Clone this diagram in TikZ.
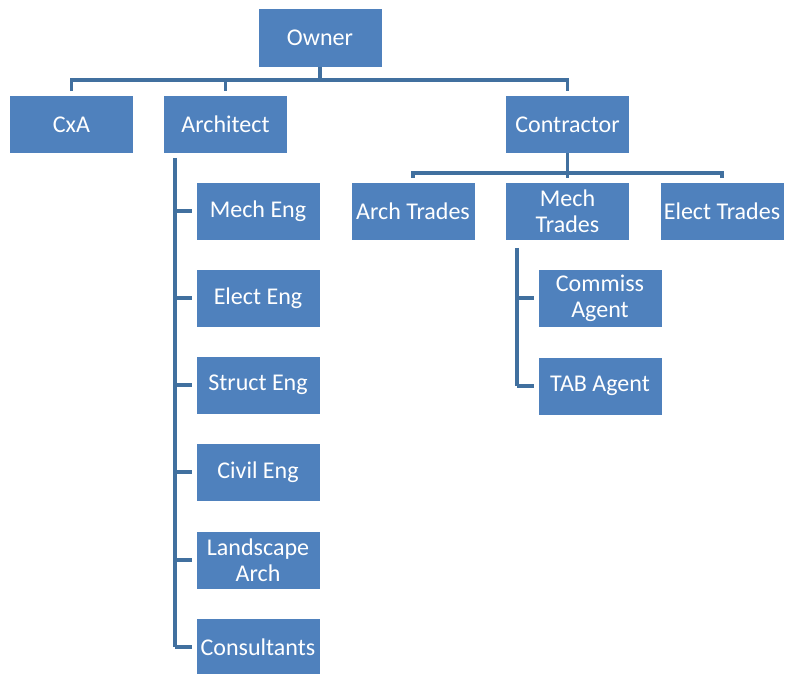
\documentclass[tikz,border=0pt]{standalone}
\usepackage{fontspec}
\setmainfont{Carlito}
\usepackage{tikz}
\usetikzlibrary{calc}

\definecolor{boxblue}{HTML}{4F81BD}
\definecolor{lineblue}{HTML}{41709F}

\tikzset{
  unit/.style={rectangle,fill=boxblue,text=white,minimum width=3.69cm,
    minimum height=1.71cm,inner sep=0pt,align=center,
    font=\fontsize{20.5}{22}\selectfont},
  link/.style={draw=lineblue,line width=3.4pt},
}

\begin{document}
\begin{tikzpicture}[x=0.03cm,y=-0.03cm]
  \useasboundingbox (0,0) rectangle (786,673);

  \node[unit] (owner) at (320,38) {Owner};
  \node[unit] (cxa) at (71.5,124.5) {CxA};
  \node[unit] (arch) at (225.5,124.5) {Architect};
  \node[unit] (contr) at (567.5,124.5) {Contractor};

  \node[unit] (archtr) at (413,211) {Arch Trades};
  \node[unit] (mechtr) at (567.5,211) {Mech\\Trades};
  \node[unit] (electtr) at (722,211) {Elect Trades};

  \node[unit] (mecheng) at (258,211) {Mech Eng};
  \node[unit] (electeng) at (258,298) {Elect Eng};
  \node[unit] (structeng) at (258,385) {Struct Eng};
  \node[unit] (civileng) at (258,472) {Civil Eng};
  \node[unit] (landarch) at (258,560) {Landscape\\Arch};
  \node[unit] (consult) at (258,647) {Consultants};

  \node[unit] (commiss) at (600,298) {Commiss\\Agent};
  \node[unit] (tab) at (600,386) {TAB Agent};

  % owner level
  \coordinate (obus) at (owner.south |- 0,80);
  \draw[link] (owner.south) -- (obus);
  \draw[link,shorten <=4,shorten >=4] (cxa.north) |- (obus) -| (contr.north);
  \draw[link,shorten >=4] (obus) -| (arch.north);

  % contractor level
  \coordinate (cbus) at (contr.south |- 0,173);
  \draw[link] (contr.south) -- (cbus);
  \draw[link,shorten <=4,shorten >=4] (archtr.north) |- (cbus) -| (electtr.north);
  \draw[link,shorten >=4] (cbus) -- (mechtr.north);

  % architect spine
  \coordinate (aspine) at ($(arch.south west)+(11,0)$);
  \draw[link,shorten <=4] (aspine) -- (aspine |- consult.west);
  \foreach \n in {mecheng,electeng,structeng,civileng,landarch,consult}
    \draw[link,shorten >=4] (aspine |- \n.west) -- (\n.west);

  % mech trades spine
  \coordinate (mspine) at ($(mechtr.south west)+(11,0)$);
  \draw[link,shorten <=7] (mspine) -- (mspine |- tab.west);
  \foreach \n in {commiss,tab}
    \draw[link,shorten >=4] (mspine |- \n.west) -- (\n.west);
\end{tikzpicture}
\end{document}
